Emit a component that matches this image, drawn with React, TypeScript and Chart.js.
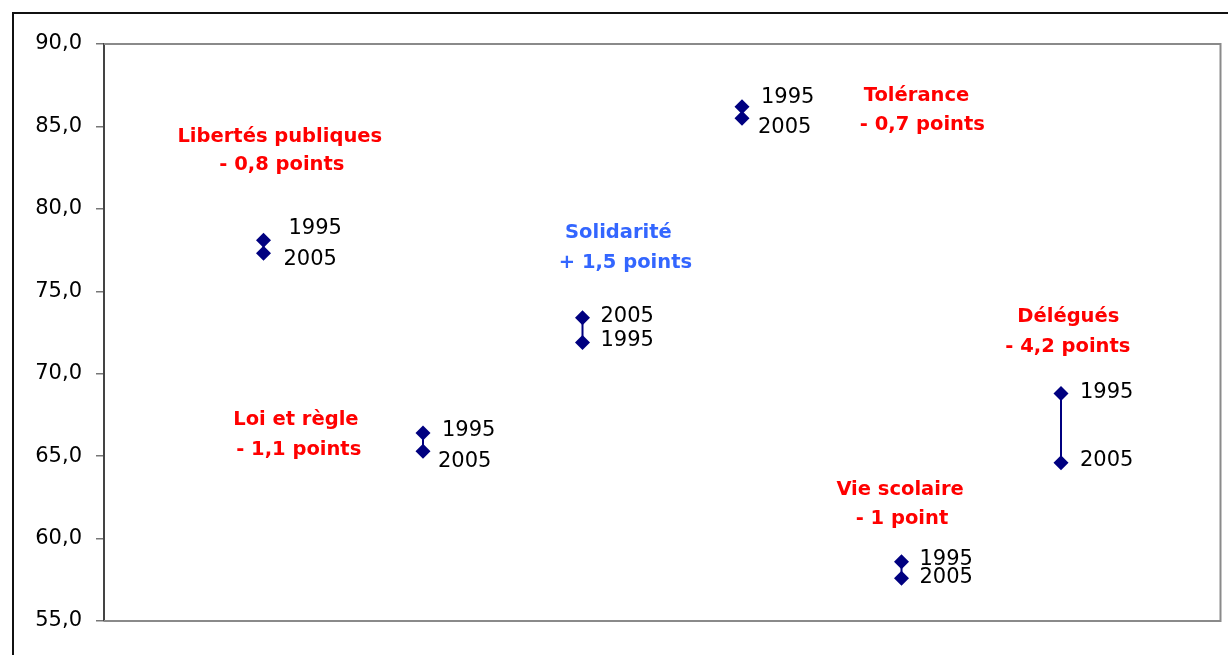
import React, { useEffect, useRef } from 'react';
import { Chart, registerables } from 'chart.js';

Chart.register(...registerables);

// ---- data ----
const categories = ['Libertés publiques', 'Loi et règle', 'Solidarité', 'Tolérance', 'Vie scolaire', 'Délégués'];
const values1995 = [78.1, 66.4, 71.9, 86.2, 58.6, 68.8];
const values2005 = [77.3, 65.3, 73.4, 85.5, 57.6, 64.6];
const changeLabels = ['- 0,8 points', '- 1,1 points', '+ 1,5 points', '- 0,7 points', '- 1 point', '- 4,2 points'];
const yearLabels = ['1995', '2005'];
const yMin = 55;
const yMax = 90;
const yStep = 5;

// ---- layout (label placement) ----
const offsets1995 = [[25, -12], [19, -3], [18, -2], [19, -9], [18, -2], [19, -1]];
const offsets2005 = [[20, 6], [15, 10], [18, -1], [16, 9], [18, -1], [19, -2]];
const annotLine1 = [[1.102, 84.36], [1.203, 67.19], [3.225, 78.54], [5.094, 86.85], [4.991, 62.95], [6.046, 73.44]];
const annotLine2 = [[1.115, 82.66], [1.221, 65.37], [3.269, 76.72], [5.131, 85.09], [5.003, 61.19], [6.043, 71.62]];
const annotColors = ['#FF0000', '#FF0000', '#3366FF', '#FF0000', '#FF0000', '#FF0000'];

const NAVY = '#000080';

const decorPlugin = {
  id: 'decor',
  beforeDatasetsDraw(chart: any) {
    const { ctx, chartArea } = chart;
    ctx.save();
    // outer frame
    ctx.strokeStyle = '#111111';
    ctx.lineWidth = 2;
    ctx.strokeRect(13, 13, 1216, 700);
    // plot area frame (top, right, bottom)
    ctx.strokeStyle = '#8a8a8a';
    ctx.lineWidth = 2;
    ctx.beginPath();
    ctx.moveTo(chartArea.left, chartArea.top);
    ctx.lineTo(chartArea.right, chartArea.top);
    ctx.lineTo(chartArea.right, chartArea.bottom);
    ctx.lineTo(chartArea.left, chartArea.bottom);
    ctx.stroke();
    ctx.restore();
  },
  afterDatasetsDraw(chart: any) {
    const { ctx } = chart;
    const xs = chart.scales.x;
    const ys = chart.scales.y;
    ctx.save();
    // year labels
    ctx.font = '21px "DejaVu Sans"';
    ctx.fillStyle = '#000000';
    ctx.textAlign = 'left';
    ctx.textBaseline = 'middle';
    categories.forEach((_, i) => {
      const meta = chart.getDatasetMeta(i);
      const p95 = meta.data[0];
      const p05 = meta.data[1];
      ctx.fillText(yearLabels[0], p95.x + offsets1995[i][0], p95.y + offsets1995[i][1]);
      ctx.fillText(yearLabels[1], p05.x + offsets2005[i][0], p05.y + offsets2005[i][1]);
    });
    // category annotations
    ctx.font = 'bold 19.5px "DejaVu Sans"';
    ctx.textAlign = 'center';
    categories.forEach((name, i) => {
      ctx.fillStyle = annotColors[i];
      ctx.fillText(name, xs.getPixelForValue(annotLine1[i][0]), ys.getPixelForValue(annotLine1[i][1]));
      ctx.fillText(changeLabels[i], xs.getPixelForValue(annotLine2[i][0]), ys.getPixelForValue(annotLine2[i][1]));
    });
    ctx.restore();
  },
};

export default function App() {
  const ref = useRef<HTMLCanvasElement | null>(null);
  useEffect(() => {
    if (!ref.current) return;
    const datasets = categories.map((name, i) => ({
      label: name,
      data: [
        { x: i + 1, y: values1995[i] },
        { x: i + 1, y: values2005[i] },
      ],
      showLine: true,
      borderColor: NAVY,
      borderWidth: 2,
      backgroundColor: NAVY,
      pointBackgroundColor: NAVY,
      pointBorderColor: NAVY,
      pointBorderWidth: 0,
      pointStyle: 'rectRot',
      pointRadius: 7.5,
    }));
    const chart = new Chart(ref.current, {
      type: 'scatter',
      data: { datasets },
      options: {
        animation: false,
        responsive: false,
        maintainAspectRatio: false,
        layout: { padding: { top: 44, right: 5, bottom: 34, left: 0 } },
        plugins: { legend: { display: false }, tooltip: { enabled: false } },
        scales: {
          x: { type: 'linear', min: 0, max: categories.length + 1, display: false },
          y: {
            type: 'linear',
            min: yMin,
            max: yMax,
            afterFit: (s: any) => { s.width = 104; },
            ticks: {
              stepSize: yStep,
              padding: 14,
              color: '#000000',
              font: { family: '"DejaVu Sans"', size: 21 },
              callback: (v: any) => Number(v).toFixed(1).replace('.', ','),
            },
            grid: { drawOnChartArea: false, drawTicks: true, tickLength: 8, color: '#777777', lineWidth: 1.5 },
            border: { color: '#444444', width: 2 },
          },
        },
      },
      plugins: [decorPlugin],
    });
    return () => chart.destroy();
  }, []);
  return (
    <div style={{ position: 'absolute', left: 0, top: 0, width: 1228, height: 655, background: '#ffffff' }}>
      <canvas ref={ref} width={1228} height={655} style={{ display: 'block' }} />
    </div>
  );
}
